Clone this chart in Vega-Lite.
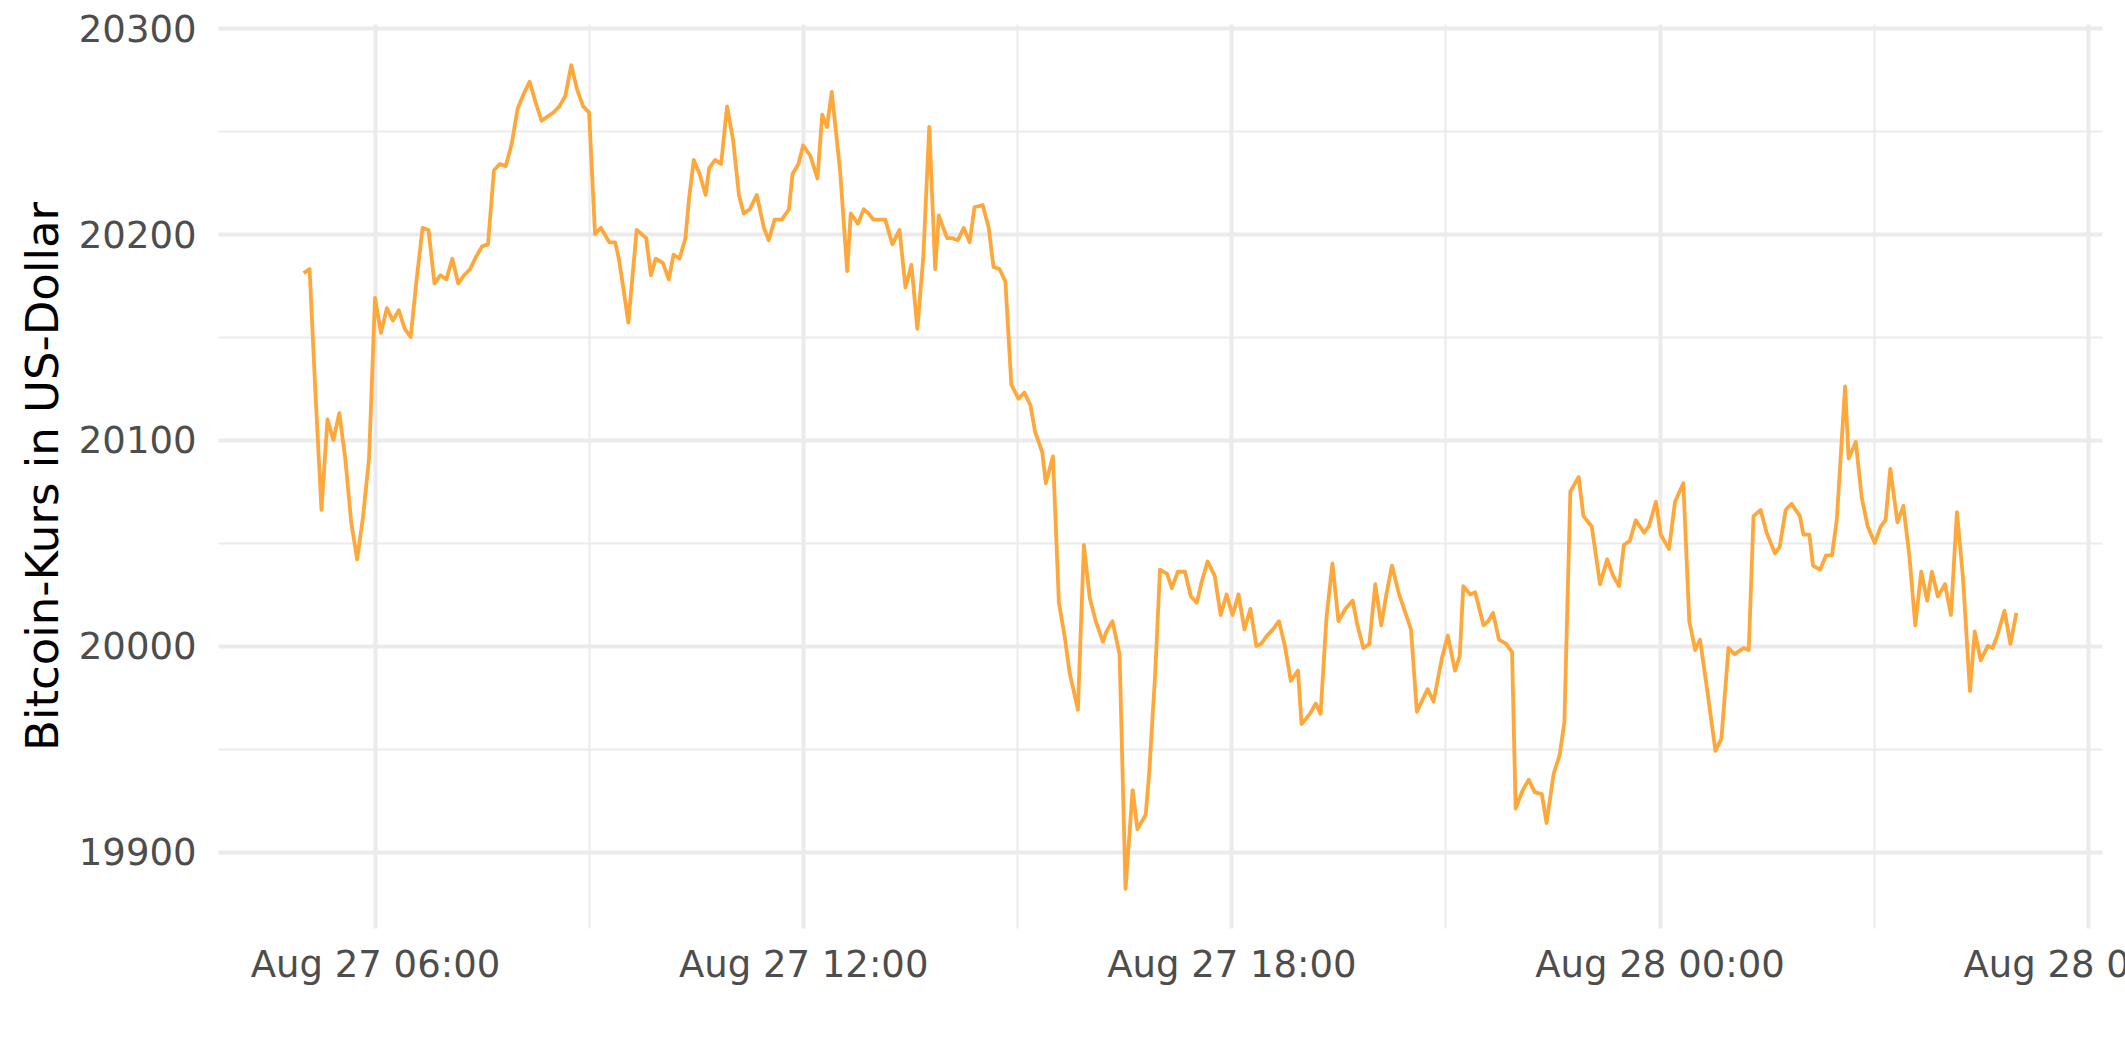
{
"$schema": "https://vega.github.io/schema/vega-lite/v6.json",
"width": 1884,
"height": 904,
"autosize": {"type": "none"},
"padding": {"left": 218, "top": 24, "right": 23, "bottom": 134},
"background": "white",
"config": {"view": {"stroke": null}, "font": "DejaVu Sans"},
"data": {"values": [
{"t":"2022-08-27T05:00:00","p":20181},{"t":"2022-08-27T05:05:00","p":20183},{"t":"2022-08-27T05:10:00","p":20122},{"t":"2022-08-27T05:15:00","p":20066},{"t":"2022-08-27T05:20:00","p":20110},{"t":"2022-08-27T05:25:00","p":20100},{"t":"2022-08-27T05:30:00","p":20113},{"t":"2022-08-27T05:35:00","p":20091},{"t":"2022-08-27T05:40:00","p":20060},{"t":"2022-08-27T05:45:00","p":20042},{"t":"2022-08-27T05:50:00","p":20063},{"t":"2022-08-27T05:55:00","p":20091},
{"t":"2022-08-27T06:00:00","p":20169},{"t":"2022-08-27T06:05:00","p":20152},{"t":"2022-08-27T06:10:00","p":20164},{"t":"2022-08-27T06:15:00","p":20158},{"t":"2022-08-27T06:20:00","p":20163},{"t":"2022-08-27T06:25:00","p":20154},{"t":"2022-08-27T06:30:00","p":20150},{"t":"2022-08-27T06:35:00","p":20178},{"t":"2022-08-27T06:40:00","p":20203},{"t":"2022-08-27T06:45:00","p":20202},{"t":"2022-08-27T06:50:00","p":20176},{"t":"2022-08-27T06:55:00","p":20180},
{"t":"2022-08-27T07:00:00","p":20178},{"t":"2022-08-27T07:05:00","p":20188},{"t":"2022-08-27T07:10:00","p":20176},{"t":"2022-08-27T07:15:00","p":20180},{"t":"2022-08-27T07:20:00","p":20183},{"t":"2022-08-27T07:25:00","p":20189},{"t":"2022-08-27T07:30:00","p":20194},{"t":"2022-08-27T07:35:00","p":20195},{"t":"2022-08-27T07:40:00","p":20231},{"t":"2022-08-27T07:45:00","p":20234},{"t":"2022-08-27T07:50:00","p":20233},{"t":"2022-08-27T07:55:00","p":20244},
{"t":"2022-08-27T08:00:00","p":20261},{"t":"2022-08-27T08:05:00","p":20268},{"t":"2022-08-27T08:10:00","p":20274},{"t":"2022-08-27T08:15:00","p":20264},{"t":"2022-08-27T08:20:00","p":20255},{"t":"2022-08-27T08:25:00","p":20257},{"t":"2022-08-27T08:30:00","p":20259},{"t":"2022-08-27T08:35:00","p":20262},{"t":"2022-08-27T08:40:00","p":20267},{"t":"2022-08-27T08:45:00","p":20282},{"t":"2022-08-27T08:50:00","p":20270},{"t":"2022-08-27T08:55:00","p":20262},
{"t":"2022-08-27T09:00:00","p":20259},{"t":"2022-08-27T09:05:00","p":20200},{"t":"2022-08-27T09:10:00","p":20203},{"t":"2022-08-27T09:17:00","p":20196},{"t":"2022-08-27T09:22:00","p":20196},{"t":"2022-08-27T09:25:00","p":20188},{"t":"2022-08-27T09:29:00","p":20173},{"t":"2022-08-27T09:33:00","p":20157},{"t":"2022-08-27T09:40:00","p":20202},{"t":"2022-08-27T09:44:00","p":20200},{"t":"2022-08-27T09:48:00","p":20198},{"t":"2022-08-27T09:52:00","p":20180},{"t":"2022-08-27T09:56:00","p":20188},
{"t":"2022-08-27T10:02:00","p":20186},{"t":"2022-08-27T10:07:00","p":20178},{"t":"2022-08-27T10:11:00","p":20190},{"t":"2022-08-27T10:16:00","p":20188},{"t":"2022-08-27T10:21:00","p":20198},{"t":"2022-08-27T10:24:00","p":20217},{"t":"2022-08-27T10:28:00","p":20236},{"t":"2022-08-27T10:33:00","p":20229},{"t":"2022-08-27T10:38:00","p":20219},{"t":"2022-08-27T10:41:00","p":20232},{"t":"2022-08-27T10:46:00","p":20236},{"t":"2022-08-27T10:51:00","p":20234},{"t":"2022-08-27T10:56:00","p":20262},
{"t":"2022-08-27T11:01:00","p":20246},{"t":"2022-08-27T11:06:00","p":20219},{"t":"2022-08-27T11:10:00","p":20210},{"t":"2022-08-27T11:15:00","p":20212},{"t":"2022-08-27T11:21:00","p":20219},{"t":"2022-08-27T11:27:00","p":20203},{"t":"2022-08-27T11:31:00","p":20197},{"t":"2022-08-27T11:36:00","p":20207},{"t":"2022-08-27T11:42:00","p":20207},{"t":"2022-08-27T11:48:00","p":20212},{"t":"2022-08-27T11:51:00","p":20229},{"t":"2022-08-27T11:56:00","p":20234},
{"t":"2022-08-27T12:00:00","p":20243},{"t":"2022-08-27T12:06:00","p":20238},{"t":"2022-08-27T12:12:00","p":20227},{"t":"2022-08-27T12:16:00","p":20258},{"t":"2022-08-27T12:20:00","p":20252},{"t":"2022-08-27T12:24:00","p":20269},{"t":"2022-08-27T12:31:00","p":20231},{"t":"2022-08-27T12:37:00","p":20182},{"t":"2022-08-27T12:40:00","p":20210},{"t":"2022-08-27T12:46:00","p":20205},{"t":"2022-08-27T12:51:00","p":20212},{"t":"2022-08-27T12:55:00","p":20210},{"t":"2022-08-27T12:59:00","p":20207},
{"t":"2022-08-27T13:04:00","p":20207},{"t":"2022-08-27T13:09:00","p":20207},{"t":"2022-08-27T13:15:00","p":20195},{"t":"2022-08-27T13:21:00","p":20202},{"t":"2022-08-27T13:26:00","p":20174},{"t":"2022-08-27T13:31:00","p":20185},{"t":"2022-08-27T13:36:00","p":20154},{"t":"2022-08-27T13:41:00","p":20189},{"t":"2022-08-27T13:46:00","p":20252},{"t":"2022-08-27T13:51:00","p":20183},{"t":"2022-08-27T13:54:00","p":20209},
{"t":"2022-08-27T14:01:00","p":20198},{"t":"2022-08-27T14:05:00","p":20198},{"t":"2022-08-27T14:10:00","p":20197},{"t":"2022-08-27T14:15:00","p":20203},{"t":"2022-08-27T14:20:00","p":20196},{"t":"2022-08-27T14:24:00","p":20213},{"t":"2022-08-27T14:31:00","p":20214},{"t":"2022-08-27T14:36:00","p":20203},{"t":"2022-08-27T14:40:00","p":20184},{"t":"2022-08-27T14:45:00","p":20183},{"t":"2022-08-27T14:50:00","p":20177},{"t":"2022-08-27T14:55:00","p":20127},
{"t":"2022-08-27T15:01:00","p":20120},{"t":"2022-08-27T15:06:00","p":20123},{"t":"2022-08-27T15:11:00","p":20117},{"t":"2022-08-27T15:15:00","p":20104},{"t":"2022-08-27T15:21:00","p":20094},{"t":"2022-08-27T15:24:00","p":20079},{"t":"2022-08-27T15:30:00","p":20092},{"t":"2022-08-27T15:35:00","p":20021},{"t":"2022-08-27T15:40:00","p":20004},{"t":"2022-08-27T15:44:00","p":19987},{"t":"2022-08-27T15:51:00","p":19969},{"t":"2022-08-27T15:56:00","p":20049},
{"t":"2022-08-27T16:01:00","p":20023},{"t":"2022-08-27T16:06:00","p":20012},{"t":"2022-08-27T16:12:00","p":20002},{"t":"2022-08-27T16:15:00","p":20007},{"t":"2022-08-27T16:20:00","p":20012},{"t":"2022-08-27T16:26:00","p":19996},{"t":"2022-08-27T16:31:00","p":19882},{"t":"2022-08-27T16:37:00","p":19930},{"t":"2022-08-27T16:41:00","p":19911},{"t":"2022-08-27T16:48:00","p":19918},{"t":"2022-08-27T16:51:00","p":19939},{"t":"2022-08-27T16:56:00","p":19987},
{"t":"2022-08-27T17:00:00","p":20037},{"t":"2022-08-27T17:06:00","p":20035},{"t":"2022-08-27T17:10:00","p":20028},{"t":"2022-08-27T17:15:00","p":20036},{"t":"2022-08-27T17:21:00","p":20036},{"t":"2022-08-27T17:26:00","p":20024},{"t":"2022-08-27T17:31:00","p":20021},{"t":"2022-08-27T17:35:00","p":20031},{"t":"2022-08-27T17:40:00","p":20041},{"t":"2022-08-27T17:46:00","p":20034},{"t":"2022-08-27T17:51:00","p":20015},{"t":"2022-08-27T17:56:00","p":20025},
{"t":"2022-08-27T18:01:00","p":20015},{"t":"2022-08-27T18:06:00","p":20025},{"t":"2022-08-27T18:11:00","p":20008},{"t":"2022-08-27T18:16:00","p":20018},{"t":"2022-08-27T18:21:00","p":20000},{"t":"2022-08-27T18:25:00","p":20001},{"t":"2022-08-27T18:30:00","p":20005},{"t":"2022-08-27T18:35:00","p":20008},{"t":"2022-08-27T18:40:00","p":20012},{"t":"2022-08-27T18:45:00","p":20000},{"t":"2022-08-27T18:50:00","p":19983},{"t":"2022-08-27T18:56:00","p":19988},{"t":"2022-08-27T18:59:00","p":19962},
{"t":"2022-08-27T19:06:00","p":19967},{"t":"2022-08-27T19:11:00","p":19972},{"t":"2022-08-27T19:15:00","p":19967},{"t":"2022-08-27T19:20:00","p":20014},{"t":"2022-08-27T19:25:00","p":20040},{"t":"2022-08-27T19:30:00","p":20012},{"t":"2022-08-27T19:36:00","p":20018},{"t":"2022-08-27T19:42:00","p":20022},{"t":"2022-08-27T19:46:00","p":20010},{"t":"2022-08-27T19:51:00","p":19999},{"t":"2022-08-27T19:56:00","p":20001},
{"t":"2022-08-27T20:01:00","p":20030},{"t":"2022-08-27T20:06:00","p":20010},{"t":"2022-08-27T20:10:00","p":20024},{"t":"2022-08-27T20:15:00","p":20039},{"t":"2022-08-27T20:21:00","p":20025},{"t":"2022-08-27T20:24:00","p":20020},{"t":"2022-08-27T20:31:00","p":20008},{"t":"2022-08-27T20:36:00","p":19968},{"t":"2022-08-27T20:40:00","p":19973},{"t":"2022-08-27T20:45:00","p":19979},{"t":"2022-08-27T20:50:00","p":19973},{"t":"2022-08-27T20:57:00","p":19994},
{"t":"2022-08-27T21:02:00","p":20005},{"t":"2022-08-27T21:08:00","p":19988},{"t":"2022-08-27T21:12:00","p":19995},{"t":"2022-08-27T21:15:00","p":20029},{"t":"2022-08-27T21:21:00","p":20025},{"t":"2022-08-27T21:25:00","p":20026},{"t":"2022-08-27T21:32:00","p":20010},{"t":"2022-08-27T21:36:00","p":20012},{"t":"2022-08-27T21:40:00","p":20016},{"t":"2022-08-27T21:45:00","p":20003},{"t":"2022-08-27T21:51:00","p":20001},{"t":"2022-08-27T21:56:00","p":19997},{"t":"2022-08-27T21:59:00","p":19921},
{"t":"2022-08-27T22:05:00","p":19930},{"t":"2022-08-27T22:10:00","p":19935},{"t":"2022-08-27T22:15:00","p":19929},{"t":"2022-08-27T22:21:00","p":19928},{"t":"2022-08-27T22:25:00","p":19914},{"t":"2022-08-27T22:31:00","p":19938},{"t":"2022-08-27T22:36:00","p":19947},{"t":"2022-08-27T22:40:00","p":19963},{"t":"2022-08-27T22:45:00","p":20075},{"t":"2022-08-27T22:52:00","p":20082},{"t":"2022-08-27T22:56:00","p":20063},
{"t":"2022-08-27T23:03:00","p":20058},{"t":"2022-08-27T23:10:00","p":20030},{"t":"2022-08-27T23:16:00","p":20042},{"t":"2022-08-27T23:21:00","p":20034},{"t":"2022-08-27T23:26:00","p":20029},{"t":"2022-08-27T23:30:00","p":20049},{"t":"2022-08-27T23:35:00","p":20051},{"t":"2022-08-27T23:40:00","p":20061},{"t":"2022-08-27T23:47:00","p":20055},{"t":"2022-08-27T23:51:00","p":20058},{"t":"2022-08-27T23:57:00","p":20070},
{"t":"2022-08-28T00:01:00","p":20054},{"t":"2022-08-28T00:08:00","p":20047},{"t":"2022-08-28T00:13:00","p":20070},{"t":"2022-08-28T00:20:00","p":20079},{"t":"2022-08-28T00:25:00","p":20012},{"t":"2022-08-28T00:30:00","p":19998},{"t":"2022-08-28T00:34:00","p":20003},{"t":"2022-08-28T00:39:00","p":19983},{"t":"2022-08-28T00:47:00","p":19949},{"t":"2022-08-28T00:52:00","p":19955},{"t":"2022-08-28T00:58:00","p":19999},
{"t":"2022-08-28T01:03:00","p":19996},{"t":"2022-08-28T01:11:00","p":19999},{"t":"2022-08-28T01:15:00","p":19998},{"t":"2022-08-28T01:19:00","p":20063},{"t":"2022-08-28T01:25:00","p":20066},{"t":"2022-08-28T01:30:00","p":20055},{"t":"2022-08-28T01:37:00","p":20045},{"t":"2022-08-28T01:41:00","p":20048},{"t":"2022-08-28T01:46:00","p":20066},{"t":"2022-08-28T01:51:00","p":20069},{"t":"2022-08-28T01:58:00","p":20063},
{"t":"2022-08-28T02:01:00","p":20054},{"t":"2022-08-28T02:06:00","p":20054},{"t":"2022-08-28T02:09:00","p":20039},{"t":"2022-08-28T02:15:00","p":20037},{"t":"2022-08-28T02:20:00","p":20044},{"t":"2022-08-28T02:25:00","p":20044},{"t":"2022-08-28T02:29:00","p":20061},{"t":"2022-08-28T02:36:00","p":20126},{"t":"2022-08-28T02:39:00","p":20091},{"t":"2022-08-28T02:45:00","p":20099},{"t":"2022-08-28T02:50:00","p":20072},{"t":"2022-08-28T02:55:00","p":20058},
{"t":"2022-08-28T03:01:00","p":20050},{"t":"2022-08-28T03:06:00","p":20058},{"t":"2022-08-28T03:10:00","p":20061},{"t":"2022-08-28T03:14:00","p":20086},{"t":"2022-08-28T03:20:00","p":20060},{"t":"2022-08-28T03:25:00","p":20068},{"t":"2022-08-28T03:30:00","p":20044},{"t":"2022-08-28T03:35:00","p":20010},{"t":"2022-08-28T03:40:00","p":20036},{"t":"2022-08-28T03:45:00","p":20022},{"t":"2022-08-28T03:49:00","p":20036},{"t":"2022-08-28T03:54:00","p":20024},
{"t":"2022-08-28T04:00:00","p":20030},{"t":"2022-08-28T04:05:00","p":20015},{"t":"2022-08-28T04:10:00","p":20065},{"t":"2022-08-28T04:15:00","p":20034},{"t":"2022-08-28T04:21:00","p":19978},{"t":"2022-08-28T04:25:00","p":20007},{"t":"2022-08-28T04:30:00","p":19993},{"t":"2022-08-28T04:36:00","p":20000},{"t":"2022-08-28T04:40:00","p":19999},{"t":"2022-08-28T04:44:00","p":20005},{"t":"2022-08-28T04:50:00","p":20017},{"t":"2022-08-28T04:55:00","p":20001},{"t":"2022-08-28T05:00:00","p":20016}
]},
"layer": [
{
"mark": {"type": "line", "color": "#FEA73B", "strokeWidth": 3.8, "strokeJoin": "round"},
"encoding": {
"x": {"field": "t", "type": "temporal",
"scale": {"domain": [{"year": 2022, "month": 8, "date": 27, "hours": 3, "minutes": 48}, {"year": 2022, "month": 8, "date": 28, "hours": 6, "minutes": 12}]},
"axis": {"values": [{"year": 2022, "month": 8, "date": 27, "hours": 6}, {"year": 2022, "month": 8, "date": 27, "hours": 12}, {"year": 2022, "month": 8, "date": 27, "hours": 18}, {"year": 2022, "month": 8, "date": 28, "hours": 0}, {"year": 2022, "month": 8, "date": 28, "hours": 6}],
"format": "%b %d %H:%M", "formatType": "time", "title": null, "domain": false, "ticks": false,
"labelPadding": 19, "labelFontSize": 37, "labelColor": "#4D4D4D", "labelFont": "DejaVu Sans",
"labelFlush": false, "labelOverlap": false, "labelBound": false, "labelLimit": 1000,
"grid": true, "gridColor": "#EBEBEB", "gridWidth": 4}},
"y": {"field": "p", "type": "quantitative",
"scale": {"domain": [19863, 20302], "zero": false, "nice": false},
"axis": {"values": [19900, 20000, 20100, 20200, 20300], "format": "d",
"title": "Bitcoin-Kurs in US-Dollar", "titleFontSize": 45, "titleFont": "DejaVu Sans", "titleFontWeight": "normal", "titleColor": "#000000", "titlePadding": 12,
"domain": false, "ticks": false, "labelPadding": 22, "labelFontSize": 37, "labelColor": "#4D4D4D", "labelFont": "DejaVu Sans", "labelOffset": 2, "labelLimit": 1000,
"grid": true, "gridColor": "#EBEBEB", "gridWidth": 4}}
}
},
{
"mark": {"type": "line", "opacity": 0},
"encoding": {
"x": {"field": "t", "type": "temporal",
"axis": {"orient": "top", "values": [{"year": 2022, "month": 8, "date": 27, "hours": 9}, {"year": 2022, "month": 8, "date": 27, "hours": 15}, {"year": 2022, "month": 8, "date": 27, "hours": 21}, {"year": 2022, "month": 8, "date": 28, "hours": 3}],
"labels": false, "ticks": false, "domain": false, "title": null, "grid": true, "gridColor": "#EBEBEB", "gridWidth": 2}},
"y": {"field": "p", "type": "quantitative",
"axis": {"orient": "right", "values": [19950, 20050, 20150, 20250], "labels": false, "ticks": false, "domain": false, "title": null, "grid": true, "gridColor": "#EBEBEB", "gridWidth": 2}}
}
}
],
"resolve": {"axis": {"x": "independent", "y": "independent"}}
}
